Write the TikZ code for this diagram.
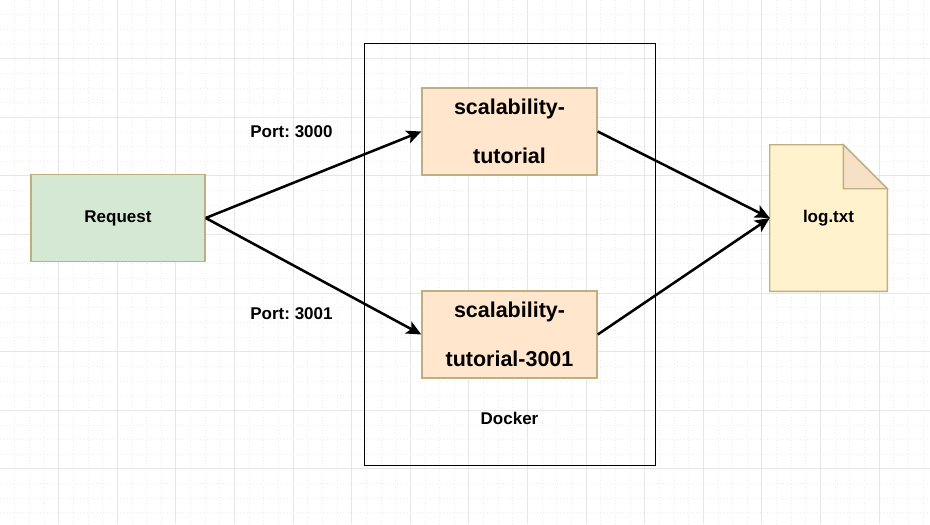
\documentclass[tikz,border=0pt]{standalone}
\usepackage{fontspec}
\setmainfont{Liberation Sans}
\usepackage{tikz}
\usetikzlibrary{positioning,arrows.meta}
\frenchspacing

\definecolor{reqfill}{HTML}{D5E8D4}
\definecolor{appfill}{HTML}{FFE6CC}
\definecolor{notefill}{HTML}{FFF2CC}
\definecolor{foldfill}{HTML}{F6E0C6}
\definecolor{tanline}{HTML}{BFAE82}
\definecolor{gridmajor}{HTML}{E6E6E6}
\definecolor{gridminor}{HTML}{EDEDED}

\tikzset{
  labeltext/.style={inner sep=0pt, font=\fontsize{12.75}{15}\selectfont\bfseries},
  reqbox/.style={draw=tanline, line width=1.1pt, fill=reqfill, minimum width=130.5pt, minimum height=65.25pt, labeltext},
  appbox/.style={draw=tanline, line width=1.1pt, fill=appfill, minimum width=131.25pt, minimum height=65.25pt, inner sep=0pt, align=center, font=\fontsize{16.1}{36.75}\selectfont\bfseries},
  flowline/.style={line width=1.9pt, -{Stealth[length=11pt, width=10pt, inset=2.5pt]}}
}

\begin{document}
\begin{tikzpicture}[x=0.75pt, y=-0.75pt]
\useasboundingbox (0,0) rectangle (930,524);
\fill[white] (0,0) rectangle (930,524);
\foreach \i in {1,...,63} \draw[gridminor, line width=0.5pt, dotted] (\i*14.65,0) -- (\i*14.65,524);
\foreach \i in {1,...,35} \draw[gridminor, line width=0.5pt, dotted] (0,\i*14.65) -- (930,\i*14.65);
\foreach \i in {1,...,15} \draw[gridmajor, line width=0.75pt] (\i*58.6,0) -- (\i*58.6,524);
\foreach \i in {1,...,8} \draw[gridmajor, line width=0.75pt] (0,\i*58.6) -- (930,\i*58.6);

\node[draw=black, line width=0.75pt, minimum width=218.25pt, minimum height=315.75pt] (node_docker) at (509.5, 254.5) {};
\node[labeltext] (label_docker) at (509.5, 418) {Docker};

\node[reqbox] (node_request) at (118, 218) {Request};
\node[appbox] (node_app_a) at (509.5, 131.5) {scalability-\\tutorial};
\node[appbox] (node_app_b) at (509.5, 334.5) {scalability-\\tutorial-3001};

\node[minimum width=87.75pt, minimum height=109.5pt, inner sep=0pt] (node_log) at (828.5, 218) {};
\draw[draw=tanline, line width=1.1pt, fill=notefill] (node_log.south west) -- (node_log.north west) -- ([xshift=-33pt]node_log.north east) -- ([yshift=-33pt]node_log.north east) -- (node_log.south east) -- cycle;
\draw[draw=tanline, line width=1.1pt, fill=foldfill] ([xshift=-33pt]node_log.north east) -- ([xshift=-33pt, yshift=-33pt]node_log.north east) -- ([yshift=-33pt]node_log.north east) -- cycle;
\node[labeltext] (label_log) at (node_log) {log.txt};

\node[labeltext] (label_port_a) at (291.5, 131.5) {Port: 3000};
\node[labeltext] (label_port_b) at (291.5, 313.5) {Port: 3001};

\draw[flowline] (node_request.east) -- (node_app_a.west);
\draw[flowline] (node_request.east) -- (node_app_b.west);
\draw[flowline] (node_app_a.east) -- (node_log.west);
\draw[flowline] (node_app_b.east) -- (node_log.west);
\end{tikzpicture}
\end{document}
